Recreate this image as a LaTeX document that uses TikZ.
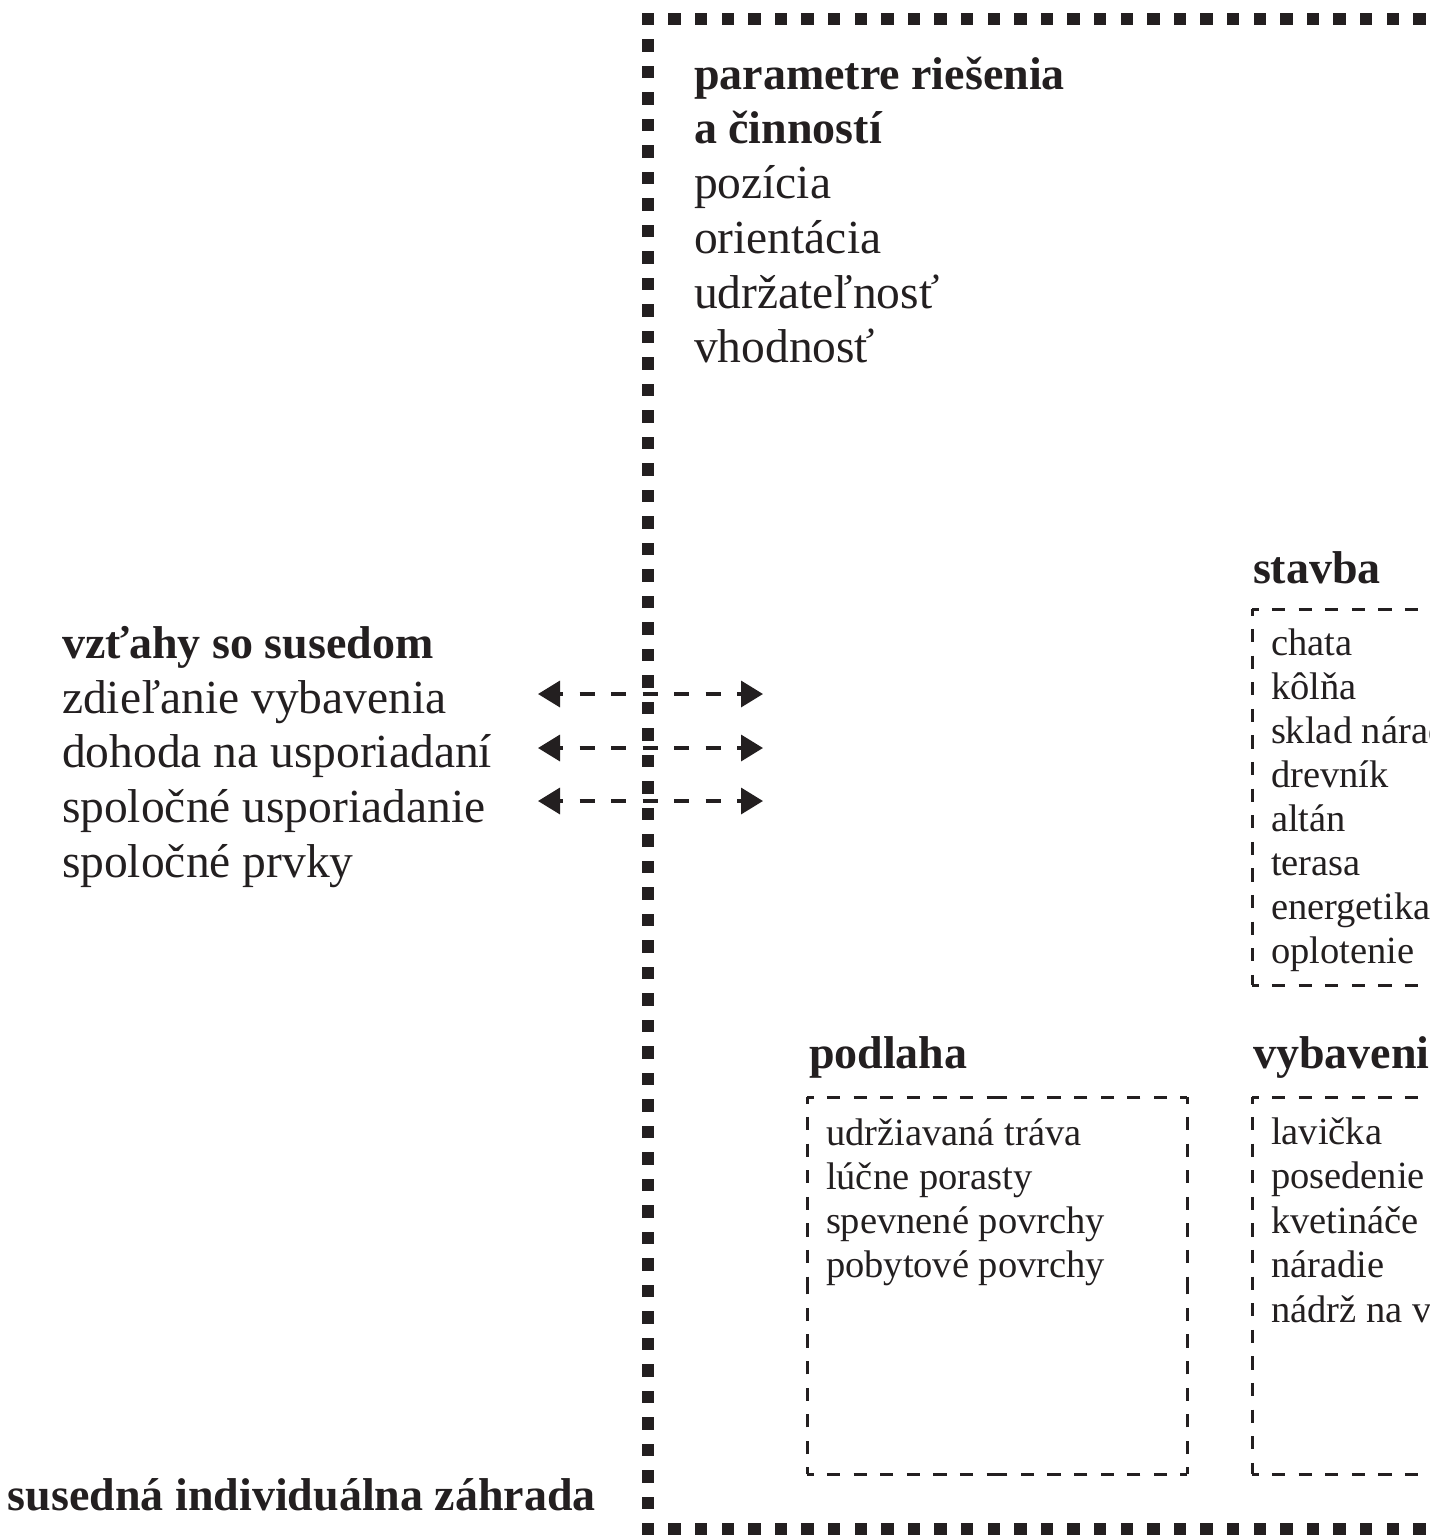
\documentclass[tikz,border=0pt]{standalone}
\usepackage{fontspec}
\setmainfont{Liberation Serif}
\usetikzlibrary{arrows.meta}
\definecolor{ink}{HTML}{231F20}
\begin{document}
\begin{tikzpicture}[x=1pt,y=-1pt,
  every node/.style={inner sep=0pt, outer sep=0pt, anchor=base west, text=ink},
  hbig/.style={font=\fontsize{46}{55}\selectfont\bfseries},
  tbig/.style={font=\fontsize{47.5}{55}\selectfont},
  tsmall/.style={font=\fontsize{38.5}{44}\selectfont},
  boxline/.style={draw=ink, line width=3pt, dash pattern=on 13.3pt off 13.3pt, dash phase=6.65pt},
  sq/.style={fill=ink},
  link/.style={draw=ink, line width=3.5pt, dash pattern=on 15pt off 16.5pt, dash phase=11pt,
    {Triangle[length=22pt,width=26pt]}-{Triangle[length=22pt,width=26pt]}}
]
\clip (0,0) rectangle (1430,1535);
% outer dotted border
\foreach \k in {0,...,30} \fill[sq] ({648+26.6*\k-6.25},12.75) rectangle ++(12.5,12.5);
\foreach \k in {1,...,57} \fill[sq] (641.75,{19+26.5*\k-6.25}) rectangle ++(12.5,12.5);
\foreach \k in {1,...,30} \fill[sq] ({648+26.6*\k-6.25},1523.25) rectangle ++(12.5,12.5);

% top block
\node[hbig] (par1) at (694,89) {parametre riešenia};
\node[hbig] (par2) at (694,143) {a činností};
\node[tbig] (poz) at (694,198) {pozícia};
\node[tbig] (ori) at (694,253) {orientácia};
\node[tbig] (udr) at (694,308) {udržateľnosť};
\node[tbig] (vho) at (694,362) {vhodnosť};

% left block
\node[hbig] (vzt) at (62,658) {vzťahy so susedom};
\node[tbig] (zdi) at (62,713) {zdieľanie vybavenia};
\node[tbig] (doh) at (62,767) {dohoda na usporiadaní};
\node[tbig] (spu) at (62,822) {spoločné usporiadanie};
\node[tbig] (spp) at (62,877) {spoločné prvky};
\node[hbig] (sus) at (8,1510) {susedná individuálna záhrada};

% arrows
\coordinate (l1) at (538,694); \coordinate (r1) at (763,694);
\coordinate (l2) at (538,748); \coordinate (r2) at (763,748);
\coordinate (l3) at (538,801); \coordinate (r3) at (763,801);
\draw[link] (l1) -- (r1);
\draw[link] (l2) -- (r2);
\draw[link] (l3) -- (r3);

% stavba
\node[hbig] (stv) at (1253,583) {stavba};
\coordinate (sTL) at (1252,609); \coordinate (sTR) at (1460,609);
\coordinate (sBL) at (1252,985); \coordinate (sBR) at (1460,985);
\draw[boxline] (sTL) -- (sTR);
\draw[boxline] (sTL) -- (sBL);
\draw[boxline] (sBL) -- (sBR);
\node[tsmall] (s1) at (1271,655) {chata};
\node[tsmall] (s2) at (1271,699.1) {kôlňa};
\node[tsmall] (s3) at (1271,743.2) {sklad náradia};
\node[tsmall] (s4) at (1271,787.3) {drevník};
\node[tsmall] (s5) at (1271,831.4) {altán};
\node[tsmall] (s6) at (1271,875.5) {terasa};
\node[tsmall] (s7) at (1271,919.6) {energetika};
\node[tsmall] (s8) at (1271,963.7) {oplotenie};

% podlaha
\node[hbig] (pod) at (809,1068) {podlaha};
\coordinate (pTL) at (807,1097); \coordinate (pTR) at (1187,1097);
\coordinate (pBL) at (807,1474); \coordinate (pBR) at (1187,1474);
\coordinate (pTM) at (997,1097); \coordinate (pBM) at (997,1474);
\coordinate (pLM) at (807,1285.5); \coordinate (pRM) at (1187,1285.5);
\draw[boxline] (pTL) -- (pTM);
\draw[boxline] (pTR) -- (pTM);
\draw[boxline] (pTR) -- (pRM);
\draw[boxline] (pBR) -- (pRM);
\draw[boxline] (pBR) -- (pBM);
\draw[boxline] (pBL) -- (pBM);
\draw[boxline] (pBL) -- (pLM);
\draw[boxline] (pTL) -- (pLM);
\node[tsmall] (p1) at (826,1145) {udržiavaná tráva};
\node[tsmall] (p2) at (826,1189.3) {lúčne porasty};
\node[tsmall] (p3) at (826,1233.6) {spevnené povrchy};
\node[tsmall] (p4) at (826,1277.9) {pobytové povrchy};

% vybavenie
\node[hbig] (vyb) at (1253,1068) {vybavenie};
\coordinate (vTL) at (1252,1097); \coordinate (vTR) at (1460,1097);
\coordinate (vBL) at (1252,1474); \coordinate (vBR) at (1460,1474);
\draw[boxline] (vTL) -- (vTR);
\draw[boxline] (vTL) -- (vBL);
\draw[boxline] (vBL) -- (vBR);
\node[tsmall] (v1) at (1271,1144) {lavička};
\node[tsmall] (v2) at (1271,1188.5) {posedenie};
\node[tsmall] (v3) at (1271,1233) {kvetináče};
\node[tsmall] (v4) at (1271,1277.5) {náradie};
\node[tsmall] (v5) at (1271,1322) {nádrž na vodu};
\end{tikzpicture}
\end{document}
